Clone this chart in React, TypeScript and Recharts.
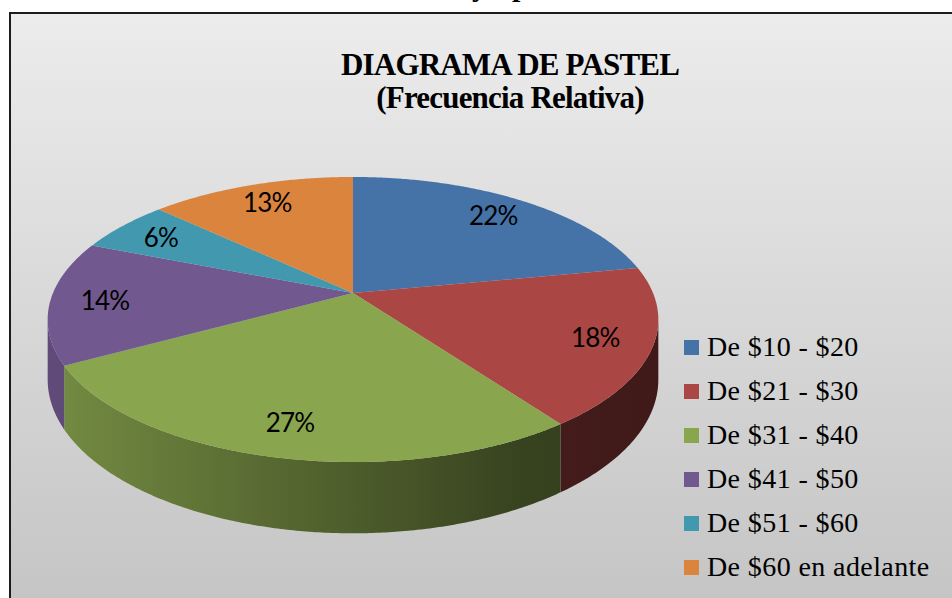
import { Cell, Legend, Pie, PieChart } from "recharts"

const categories = [
  "De $10 - $20",
  "De $21 - $30",
  "De $31 - $40",
  "De $41 - $50",
  "De $51 - $60",
  "De $60 en adelante",
]
const percents = [22, 18, 27, 14, 6, 13]
const colors = ["#4572A7", "#AA4643", "#89A54E", "#71588F", "#4198AF", "#DB843D"]

const data = categories.map((name, i) => ({ name, value: percents[i] }))

// fake 3D: perspective tilt of the pie plane
const P = 0.186
const S = 0.4587
const DEPTH = 58

function proj(cx: number, cy: number, r: number, deg: number, f = 1) {
  const a = (deg * Math.PI) / 180
  const X = f * Math.cos(a)
  const Y = f * Math.sin(a)
  const w = 1 + P * Y
  return [cx + (r * X) / w, cy - (r * S * Y) / w, w]
}

function shade(hex: string, k: number) {
  const n = parseInt(hex.slice(1), 16)
  const c = [(n >> 16) & 255, (n >> 8) & 255, n & 255].map((v) => Math.round(v * k))
  return `rgb(${c[0]},${c[1]},${c[2]})`
}

function arc(cx: number, cy: number, r: number, a0: number, a1: number) {
  const steps = Math.max(2, Math.ceil(Math.abs(a1 - a0) / 0.5))
  const pts: number[][] = []
  for (let i = 0; i <= steps; i++) pts.push(proj(cx, cy, r, a0 + ((a1 - a0) * i) / steps))
  return pts
}

function Slice3D(props: any) {
  const { cx, cy, outerRadius, startAngle, endAngle, fill } = props
  const r = outerRadius
  const top = arc(cx, cy, r, startAngle, endAngle)
  const topPath =
    `M${cx},${cy} ` + top.map((p) => `L${p[0].toFixed(2)},${p[1].toFixed(2)}`).join(" ") + " Z"

  const lim = (Math.asin(P) * 180) / Math.PI
  const lo = Math.min(startAngle, endAngle)
  const hi = Math.max(startAngle, endAngle)
  const walls: string[] = []
  for (const k of [-360, 0, 360]) {
    const s = Math.max(lo, -180 + lim + k)
    const e = Math.min(hi, -lim + k)
    if (e > s) {
      const upper = arc(cx, cy, r, s, e)
      const lower = upper.map((p) => [p[0], p[1] + DEPTH / p[2]]).reverse()
      walls.push(
        upper.concat(lower).map((p, i) => `${i ? "L" : "M"}${p[0].toFixed(2)},${p[1].toFixed(2)}`).join(" ") + " Z"
      )
    }
  }
  const gid = `wall-${String(fill).replace("#", "")}`
  return (
    <g>
      <defs>
        <linearGradient id={gid} gradientUnits="userSpaceOnUse" x1={cx - r * 1.02} x2={cx + r * 1.02} y1={0} y2={0}>
          <stop offset="0" stopColor={shade(fill, 0.85)} />
          <stop offset="0.78" stopColor={shade(fill, 0.4)} />
          <stop offset="1" stopColor={shade(fill, 0.37)} />
        </linearGradient>
      </defs>
      {walls.map((d, i) => (
        <path key={i} d={d} fill={`url(#${gid})`} />
      ))}
      <path d={topPath} fill={fill} />
    </g>
  )
}

const renderLabel = (props: any) => {
  const { cx, cy, midAngle, outerRadius, value } = props
  const [x, y] = proj(cx, cy, outerRadius, midAngle, 0.82)
  return (
    <text
      x={x}
      y={y}
      textAnchor="middle"
      dominantBaseline="central"
      fill="#000"
      fontSize={26}
      letterSpacing={-0.8}
      fontFamily="Lato, 'Open Sans', sans-serif"
    >
      {`${value}%`}
    </text>
  )
}

const renderLegend = (props: any) => {
  const items = props.payload || []
  return (
    <div style={{ fontFamily: "'Liberation Serif', 'Times New Roman', serif", fontSize: 28 }}>
      {items.map((entry: any, i: number) => (
        <div key={i} style={{ display: "flex", alignItems: "center", height: 44, letterSpacing: 0.4 }}>
          <span
            style={{
              width: 15,
              height: 15,
              background: entry.color || colors[i],
              marginRight: 8,
              flexShrink: 0,
            }}
          />
          <span style={{ color: "#000", whiteSpace: "nowrap" }}>{entry.value}</span>
        </div>
      ))}
    </div>
  )
}

export default function App() {
  return (
    <div
      style={{
        position: "absolute",
        left: 0,
        top: 0,
        width: 952,
        height: 598,
        overflow: "hidden",
        background: "#fff",
      }}
    >
      <div
        style={{
          position: "absolute",
          left: 9,
          top: 12,
          width: 960,
          height: 600,
          borderLeft: "2px solid #1c1c1c",
          borderTop: "2px solid #1c1c1c",
          background: "linear-gradient(#ececec, #c5c5c5 586px)",
        }}
      />
      <svg width={952} height={598} style={{ position: "absolute", left: 0, top: 0 }}>
        {/* heading of the page above, cut off by the picture's top edge */}
        <g fontSize={30} fontWeight="bold" fontFamily="'Liberation Serif', serif">
          <text x={472} y={-4}>y</text>
          <text x={512} y={-4}>p</text>
        </g>
        <g fontFamily="'Liberation Serif', 'Times New Roman', serif" fontWeight="bold" fontSize={31} textAnchor="middle" letterSpacing={-0.8}>
          <text x={510} y={75}>DIAGRAMA DE PASTEL</text>
          <text x={510} y={108}>(Frecuencia Relativa)</text>
        </g>
      </svg>
      <div style={{ position: "absolute", left: 0, top: 0 }}>
        <PieChart width={952} height={598} margin={{ top: 0, right: 0, bottom: 0, left: 0 }}>
          <Pie
            data={data}
            dataKey="value"
            nameKey="name"
            cx={353}
            cy={293}
            outerRadius={300}
            startAngle={90}
            endAngle={-270}
            stroke="none"
            shape={Slice3D}
            inactiveShape={Slice3D}
            activeShape={Slice3D}
            label={renderLabel}
            labelLine={false}
            isAnimationActive={false}
          >
            {data.map((d, i) => (
              <Cell key={d.name} fill={colors[i]} />
            ))}
          </Pie>
          <Legend
            layout="vertical"
            align="right"
            verticalAlign="top"
            content={renderLegend}
            wrapperStyle={{ left: 684, top: 325, right: undefined, bottom: undefined }}
          />
        </PieChart>
      </div>
    </div>
  )
}
